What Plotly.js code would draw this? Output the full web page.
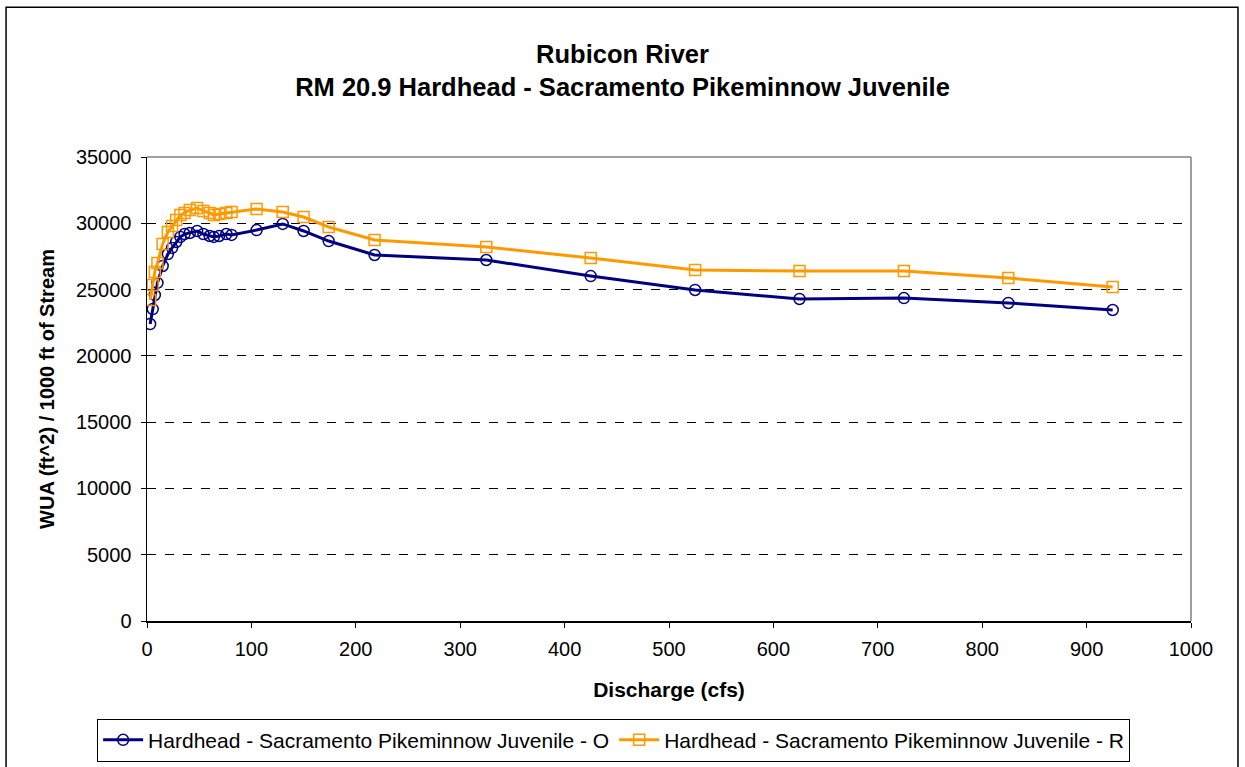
<!DOCTYPE html>
<html>
<head>
<meta charset="utf-8">
<script src="https://cdn.plot.ly/plotly-3.0.1.min.js"></script>
<style>html,body{margin:0;padding:0;background:#fff;}#chart{width:1245px;height:767px;}</style>
</head>
<body>
<div id="chart"></div>
<script>
const discharge = [3, 5.5, 7.5, 10, 15, 20, 24, 28, 32, 36, 41, 48, 54, 60, 64, 69, 76, 81, 105, 130, 150, 174, 218, 325, 425, 525, 625, 725, 825, 925];
const wuaO = [22400, 23530, 24590, 25500, 26780, 27680, 28140, 28590, 28970, 29190, 29270, 29420, 29190, 29040, 28970, 29040, 29190, 29120, 29490, 29950, 29420, 28660, 27610, 27230, 26020, 24970, 24290, 24360, 23990, 23460];
const wuaR = [24210, 25350, 26330, 27000, 28440, 29340, 29800, 30250, 30620, 30780, 31000, 31150, 30930, 30780, 30620, 30700, 30780, 30850, 31080, 30850, 30470, 29720, 28740, 28210, 27380, 26480, 26400, 26400, 25870, 25190];
const nameO = "Hardhead - Sacramento Pikeminnow Juvenile - O";
const nameR = "Hardhead - Sacramento Pikeminnow Juvenile - R";

const font = "Liberation Sans, Arial, sans-serif";
const traces = [
  {x: discharge, y: wuaO, name: nameO, type: "scatter", mode: "lines+markers",
   line: {color: "#000080", width: 3},
   marker: {symbol: "circle-open", size: 11, color: "#000080", line: {width: 1.5}}},
  {x: discharge, y: wuaR, name: nameR, type: "scatter", mode: "lines+markers",
   line: {color: "#FF9900", width: 3},
   marker: {symbol: "square-open", size: 11, color: "#FF9900", line: {width: 1.5}}}
];
const layout = {
  width: 1245, height: 767,
  margin: {l: 147, r: 54, t: 157, b: 146},
  paper_bgcolor: "#fff", plot_bgcolor: "#fff",
  font: {family: font, color: "#000", size: 20},
  title: {text: "<b>Rubicon River</b><br><b>RM 20.9 Hardhead - Sacramento Pikeminnow Juvenile</b>",
          font: {family: font, size: 25.5, color: "#000"}, x: 0.5, xanchor: "center", y: 0.918, yanchor: "middle"},
  xaxis: {range: [0, 1000], dtick: 100, tick0: 0, showgrid: false, zeroline: false,
          showline: true, linecolor: "#000", linewidth: 1.5, ticks: "outside", ticklen: 5, tickcolor: "#000",
          tickfont: {size: 20}, tickformat: "d", ticklabelstandoff: 4,
          title: {text: "<b>Discharge (cfs)</b>", font: {size: 21}, standoff: 24}},
  yaxis: {range: [0, 35000], dtick: 5000, tick0: 0, zeroline: false, tickformat: "d",
          showgrid: true, gridcolor: "#000", griddash: "dash", gridwidth: 1,
          showline: true, linecolor: "#000", linewidth: 1.5, ticks: "outside", ticklen: 5, tickcolor: "#000",
          tickfont: {size: 20}, ticklabelstandoff: 5,
          title: {text: "<b>WUA (ft^2) / 1000 ft of Stream</b>", font: {size: 20}, standoff: 16}},
  showlegend: true,
  legend: {orientation: "h", xref: "container", x: 0.078, xanchor: "left", yref: "container", y: 0.063, yanchor: "top",
           bordercolor: "#000", borderwidth: 1, bgcolor: "#fff",
           font: {size: 21}, tracegroupgap: 0, itemwidth: 40},
  shapes: [
    {type: "line", xref: "paper", yref: "paper", x0: 0, x1: 1, y0: 1, y1: 1, line: {color: "#808080", width: 1.5}},
    {type: "line", xref: "paper", yref: "paper", x0: 1, x1: 1, y0: 0, y1: 1, line: {color: "#808080", width: 1.5}},
    {type: "rect", xref: "paper", yref: "paper", x0: -0.135, x1: 1.045, y0: -0.32, y1: 1.323, line: {color: "#000", width: 1.5}, layer: "below"}
  ]
};
Plotly.newPlot("chart", traces, layout, {displayModeBar: false, staticPlot: true});
</script>
</body>
</html>
